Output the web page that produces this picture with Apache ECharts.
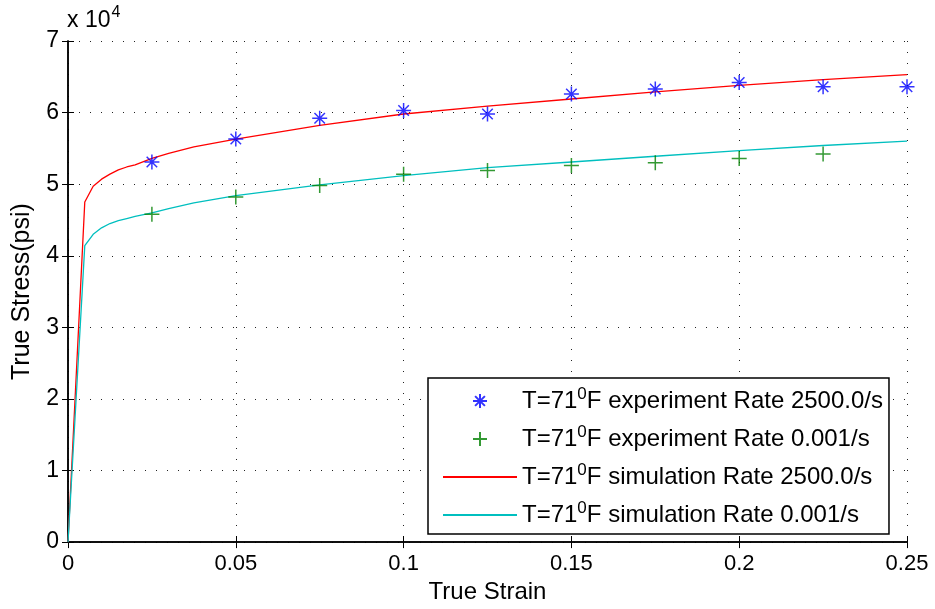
<!DOCTYPE html>
<html><head><meta charset="utf-8">
<script src="https://cdn.jsdelivr.net/npm/echarts@6/dist/echarts.min.js"></script>
<style>html,body{margin:0;padding:0;background:#fff}#c{width:935px;height:609px}</style>
</head><body><div id="c"></div>
<script>
// values in units of 10^4 psi
const expStrain = [0.025,0.05,0.075,0.1,0.125,0.15,0.175,0.2,0.225,0.25];
const expFast = [5.31,5.63,5.92,6.03,5.98,6.26,6.33,6.42,6.36,6.36];
const expSlowStrain = [0.025,0.05,0.075,0.1,0.125,0.15,0.175,0.2,0.225];
const expSlow = [4.58,4.82,4.98,5.14,5.19,5.26,5.30,5.36,5.42];
const simStrain = [0,0.005,0.0075,0.01,0.0125,0.015,0.0175,0.02,0.025,0.03,0.0375,0.05,0.075,0.1,0.125,0.15,0.175,0.2,0.225,0.25];
const simFast = [0,4.75,4.97,5.07,5.14,5.20,5.24,5.27,5.36,5.43,5.52,5.63,5.82,5.98,6.09,6.19,6.29,6.38,6.46,6.53];
const simSlow = [0,4.14,4.30,4.39,4.45,4.49,4.52,4.55,4.60,4.66,4.74,4.84,4.99,5.12,5.23,5.31,5.39,5.47,5.54,5.60];
const names = ['T=71{s|0}F experiment Rate 2500.0/s','T=71{s|0}F experiment Rate 0.001/s','T=71{s|0}F simulation Rate 2500.0/s','T=71{s|0}F simulation Rate 0.001/s'];
const xTicks = ['0','0.05','0.1','0.15','0.2','0.25'];

const FONT = 'Liberation Sans';
const zip = (a,b)=>a.map((v,i)=>[v,b[i]]);
const STAR = 'path://M0,-1L0,1M-1,0L1,0M-0.7,-0.7L0.7,0.7M-0.7,0.7L0.7,-0.7';
const PLUS = 'path://M0,-1L0,1M-1,0L1,0';
const chart = echarts.init(document.getElementById('c'));
const gridLine = {show:true,lineStyle:{color:'#222',type:[1,10],width:1}};
const edge = {show:true,inside:true,length:6,lineStyle:{color:'#000'}};
chart.setOption({
  animation:false,
  textStyle:{fontFamily:FONT},
  grid:{left:68,right:28,top:41,bottom:66},
  graphic:[{type:'text',left:67,top:5,z:10,
    style:{text:'{b|x 10}{s|4}',fill:'#000',font:'23px "Liberation Sans"',
      rich:{b:{font:'23px "Liberation Sans"',fill:'#000',lineHeight:32},
            s:{font:'16px "Liberation Sans"',fill:'#000',verticalAlign:'top',lineHeight:18,padding:[0,0,0,1]}}}}],
  legend:{orient:'vertical',left:428,top:378,itemWidth:74,itemHeight:14,itemGap:8,
    padding:[8,6,4,14],borderColor:'#000',borderWidth:1.5,backgroundColor:'#fff',borderRadius:0,
    textStyle:{fontFamily:FONT,fontSize:24,color:'#000',lineHeight:30,
      rich:{s:{fontFamily:FONT,fontSize:17,color:'#000',verticalAlign:'top',lineHeight:20}}},
    data:[{name:names[0]},{name:names[1]},
          {name:names[2],itemStyle:{color:'rgba(0,0,0,0)',borderWidth:0}},
          {name:names[3],itemStyle:{color:'rgba(0,0,0,0)',borderWidth:0}}]},
  xAxis:[{type:'value',min:0,max:0.25,interval:0.05,
    name:'True Strain',nameLocation:'middle',nameGap:37,nameTextStyle:{fontSize:24,color:'#000',fontFamily:FONT},
    axisLine:{show:true,lineStyle:{color:'#000',width:1.5}},
    axisTick:edge,
    axisLabel:{fontSize:22,color:'#000',margin:11,fontFamily:FONT,formatter:(v)=>xTicks[Math.round(v/0.05)]},
    splitLine:gridLine},
   {type:'value',position:'top',min:0,max:0.25,interval:0.05,
    axisLine:{show:true,lineStyle:{color:'#000',width:1.5}},
    axisTick:edge,axisLabel:{show:false},splitLine:{show:false}}],
  yAxis:[{type:'value',min:0,max:7,interval:1,
    name:'True Stress(psi)',nameLocation:'middle',nameGap:33,nameTextStyle:{fontSize:25,color:'#000',fontFamily:FONT},
    axisLine:{show:true,lineStyle:{color:'#000',width:1.5}},
    axisTick:edge,
    axisLabel:{fontSize:23,color:'#000',margin:9,fontFamily:FONT},
    splitLine:gridLine},
   {type:'value',position:'right',min:0,max:7,interval:1,
    axisLine:{show:true,lineStyle:{color:'#000',width:1.5}},
    axisTick:edge,axisLabel:{show:false},splitLine:{show:false}}],
  series:[
    {name:names[0],type:'scatter',data:zip(expStrain,expFast),symbol:STAR,symbolSize:15,z:5,
     itemStyle:{color:'rgba(0,0,0,0)',borderColor:'#0000ff',borderWidth:1.5}},
    {name:names[1],type:'scatter',data:zip(expSlowStrain,expSlow),symbol:PLUS,symbolSize:15,z:5,
     itemStyle:{color:'rgba(0,0,0,0)',borderColor:'#008000',borderWidth:1.5}},
    {name:names[2],type:'line',data:zip(simStrain,simFast),showSymbol:false,symbol:'none',
     lineStyle:{color:'#ff0000',width:1.3},itemStyle:{color:'#ff0000'}},
    {name:names[3],type:'line',data:zip(simStrain,simSlow),showSymbol:false,symbol:'none',
     lineStyle:{color:'#00bfbf',width:1.3},itemStyle:{color:'#00bfbf'}}
  ]
});
</script></body></html>
